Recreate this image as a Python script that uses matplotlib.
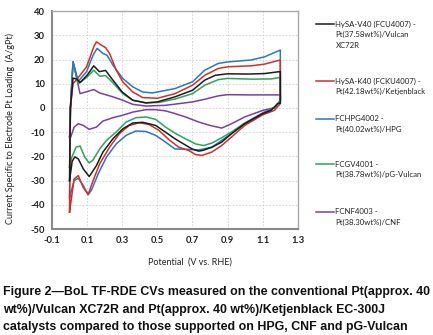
#!/usr/bin/env python3
"""
BoL TF-RDE cyclic voltammograms - Pt on various carbon supports.
Anodic + cathodic sweep per catalyst, closed loop 0.0 -> 1.2 -> 0.0 V.
"""

import matplotlib
matplotlib.use("Agg")
import matplotlib.pyplot as plt
from matplotlib.lines import Line2D

# ── data ─────────────────────────────────────────────────────────────────────
# HySA-V40 (black)
V40_E_AN = [0.0, 0.005, 0.02, 0.04, 0.06, 0.1, 0.138, 0.17, 0.205, 0.247, 0.3,
            0.36, 0.435, 0.5, 0.6, 0.7, 0.77, 0.83, 0.9, 1.016, 1.11, 1.185, 1.2]
V40_I_AN = [-30, 0, 12.3, 12, 10.5, 13.5, 17.4, 15, 15.5, 11.5, 6.6,
            3.2, 2.1, 2.5, 4.6, 7.3, 11.5, 13.5, 14.1, 14, 14.2, 14.9, 15]
V40_E_CA = [1.2, 1.185, 1.147, 1.1, 0.997, 0.922, 0.866, 0.81, 0.76, 0.735, 0.7,
            0.66, 0.6, 0.547, 0.49, 0.416, 0.36, 0.303, 0.247, 0.19, 0.153,
            0.112, 0.078, 0.05, 0.03, 0.015, 0.0]
V40_I_CA = [2, 1.8, -1, -2.3, -6.5, -10.6, -14.1, -16.2, -17.5, -17.8, -17,
            -15.3, -12.7, -10, -7.2, -5.9, -6.2, -8.6, -12.7, -18.2, -23.8,
            -28.3, -25.1, -21, -20.2, -22, -30]

# HySA-K40 (red)
K40_E_AN = [0.0, 0.005, 0.02, 0.06, 0.097, 0.138, 0.153, 0.18, 0.205, 0.228,
            0.266, 0.303, 0.36, 0.416, 0.5, 0.6, 0.7, 0.77, 0.847, 0.9, 1.034,
            1.11, 1.2]
K40_I_AN = [-43, 0, 10, 13.5, 17, 25.3, 27.3, 26, 24.9, 22.5,
            15.6, 10.8, 6.6, 4.3, 4, 5.9, 9.4, 13.5, 16.3, 17, 17.4,
            18.1, 19.8]
K40_E_CA = [1.2, 1.166, 1.1, 0.997, 0.922, 0.866, 0.81, 0.753, 0.716, 0.678,
            0.622, 0.566, 0.51, 0.453, 0.397, 0.34, 0.284, 0.228, 0.172,
            0.134, 0.106, 0.078, 0.05, 0.026, 0.0]
K40_I_CA = [1.8, -1, -2.8, -7.2, -12, -15.5, -18.2, -19.6, -19.2, -17.5,
            -16.2, -13.1, -9.3, -6.8, -6.1, -7.2, -10.6, -16.2, -23,
            -30, -35.7, -32.8, -27.9, -29.3, -43]

# FCHPG4002 (blue)
HPG_E_AN = [0.0, 0.005, 0.02, 0.05, 0.097, 0.134, 0.157, 0.19, 0.213, 0.247,
            0.303, 0.36, 0.416, 0.47, 0.6, 0.7, 0.77, 0.847, 0.9, 1.034, 1.11,
            1.2]
HPG_I_AN = [-37, 0, 19, 11, 15, 21.8, 24.6, 22.5, 21.8, 17.7,
            12.2, 8.7, 6.6, 6.2, 8, 10.8, 15.6, 18.4, 19, 19.8, 21.1,
            23.9]
HPG_E_CA = [1.2, 1.166, 1.1, 0.997, 0.922, 0.866, 0.81, 0.735, 0.678, 0.6,
            0.547, 0.49, 0.435, 0.378, 0.322, 0.266, 0.21, 0.163, 0.125,
            0.106, 0.078, 0.05, 0.026, 0.0]
HPG_I_CA = [3, 0.1, -2.1, -6.5, -10.6, -13.4, -16.2, -17.3, -17.1, -16.9,
            -14.1, -11.3, -9.7, -9.5, -11.3, -14.8, -20.3, -27.2, -33.9,
            -35.8, -32, -29, -30, -37]

# FCGV4001 (green)
GV_E_AN = [0.0, 0.005, 0.02, 0.05, 0.097, 0.138, 0.172, 0.205, 0.247, 0.303,
           0.36, 0.435, 0.51, 0.6, 0.7, 0.77, 0.847, 0.9, 1.034, 1.147, 1.2]
GV_I_AN = [-24.5, 0, 19, 10, 12.6, 15.6, 13.1, 13.4, 10.4, 5.9,
           3.2, 2.1, 2.3, 3.7, 5.9, 9.4, 11.7, 12.2, 11.9, 12, 12.6]
GV_E_CA = [1.2, 1.166, 1.1, 0.997, 0.922, 0.866, 0.81, 0.762, 0.716, 0.66,
           0.6, 0.547, 0.49, 0.435, 0.378, 0.322, 0.266, 0.21, 0.172, 0.134,
           0.112, 0.087, 0.06, 0.037, 0.013, 0.0]
GV_I_CA = [3, 0.1, -2.1, -6.2, -9.9, -12.3, -14.5, -15.5, -14.8, -12.7,
           -10.4, -7.9, -4.7, -3.7, -4, -5.8, -9.9, -13.4, -16.9, -21.4,
           -22.7, -20.3, -15.7, -16.2, -20.3, -24.5]

# FCNF4003 (purple)
NF_E_AN = [0.0, 0.005, 0.02, 0.06, 0.138, 0.172, 0.247, 0.303, 0.36, 0.435,
           0.547, 0.7, 0.77, 0.847, 0.9, 1.034, 1.2]
NF_I_AN = [-12, 0, 19, 5.9, 7.6, 6.2, 4.6, 3.2, 1.5, 0.8,
           1.1, 2.5, 3.6, 5, 5.5, 5.4, 5.4]
NF_E_CA = [1.2, 1.166, 1.1, 0.997, 0.922, 0.866, 0.8, 0.735, 0.66, 0.6,
           0.547, 0.49, 0.435, 0.36, 0.303, 0.247, 0.19, 0.153, 0.112, 0.078,
           0.05, 0.026, 0.007, 0.0]
NF_I_CA = [3, 0.1, -1, -3.7, -6.5, -8.3, -7.2, -5.8, -3.7, -2.3,
           -1.2, -0.7, -0.7, -1.7, -3, -4, -5.4, -7.9, -8.8, -7.2,
           -6.5, -7.9, -12, -12]

LABELS = [
    "HySA-V40 (FCU4007) -\nPt(37.58wt%)/Vulcan\nXC72R",
    "HySA-K40 (FCKU4007) -\nPt(42.18wt%)/Ketjenblack",
    "FCHPG4002 -\nPt(40.02wt%)/HPG",
    "FCGV4001 -\nPt(38.78wt%)/pG-Vulcan",
    "FCNF4003 -\nPt(38.30wt%)/CNF",
]
COLORS = ["#1c1c1c", "#d0302a", "#2a78bd", "#2fa35c", "#7d3fa3"]

X_TICKS = [-0.1, 0.1, 0.3, 0.5, 0.7, 0.9, 1.1, 1.3]
Y_TICKS = [-50, -40, -30, -20, -10, 0, 10, 20, 30, 40]

CAPTION = [
    "Figure 2\u2014BoL TF-RDE CVs measured on the conventional Pt(approx. 40",
    "wt%)/Vulcan XC72R and Pt(approx. 40 wt%)/Ketjenblack EC-300J",
    "catalysts compared to those supported on HPG, CNF and pG-Vulcan",
]

# legend handle heights (figure fraction), one per entry
LEG_Y = [0.928, 0.758, 0.645, 0.510, 0.367]

AX_FONT = ["Lato", "DejaVu Sans"]
CAP_FONT = ["Liberation Sans", "DejaVu Sans"]


def main():
    series = [
        (V40_E_AN + V40_E_CA, V40_I_AN + V40_I_CA),
        (K40_E_AN + K40_E_CA, K40_I_AN + K40_I_CA),
        (HPG_E_AN + HPG_E_CA, HPG_I_AN + HPG_I_CA),
        (GV_E_AN + GV_E_CA, GV_I_AN + GV_I_CA),
        (NF_E_AN + NF_E_CA, NF_I_AN + NF_I_CA),
    ]

    fig = plt.figure(figsize=(4.33, 3.35), dpi=100)
    ax = fig.add_axes([0.120, 0.316, 0.568, 0.651])

    # draw back-to-front so the black trace sits on top like the original
    for (e, i), color in list(zip(series, COLORS))[::-1]:
        ax.plot(e, i, color=color, lw=1.1, solid_joinstyle="round")

    ax.set_xlim(-0.1, 1.3)
    ax.set_ylim(-50, 40)
    ax.set_xticks(X_TICKS)
    ax.set_yticks(Y_TICKS)
    ax.set_xticklabels([f"{t:.1f}" for t in X_TICKS])
    ax.set_yticklabels([str(t) for t in Y_TICKS])
    for lab in ax.get_xticklabels() + ax.get_yticklabels():
        lab.set_family(AX_FONT)
        lab.set_fontweight("bold")
        lab.set_fontsize(6.8)
        lab.set_color("#222222")
    ax.tick_params(length=0, pad=5)
    ax.grid(True, color="#cfcfcf", lw=0.6, linestyle=(0, (2, 2)))
    ax.set_axisbelow(True)
    for side in ["top", "right"]:
        ax.spines[side].set_color("#a8a8a8")
        ax.spines[side].set_linewidth(1.0)
    for side in ["left", "bottom"]:
        ax.spines[side].set_color("#8a8a8a")
        ax.spines[side].set_linewidth(1.5)

    ax.set_xlabel("Potential  (V vs. RHE)", family=AX_FONT, fontsize=6.5,
                  color="#222222")
    ax.xaxis.set_label_coords(0.56, -0.13)
    ax.set_ylabel("Current Specific to Electrode Pt Loading  (A/gPt)",
                  family=AX_FONT, fontsize=6.5, color="#222222")
    ax.yaxis.set_label_coords(-0.15, 0.463)

    # ── legend: one entry per block, handle level with first text line ─────
    for label, color, y in zip(LABELS, COLORS, LEG_Y):
        n = label.count("\n")
        padded = "\n" * n + label
        h = Line2D([], [], color=color, lw=1.1)
        leg = fig.legend(handles=[h], labels=[padded], loc="center left",
                         bbox_to_anchor=(0.729, y), frameon=False,
                         borderpad=0, borderaxespad=0, handlelength=2.3,
                         handletextpad=0.25,
                         prop={"family": AX_FONT, "size": 5.6})
        for t in leg.get_texts():
            t.set_linespacing(1.6)
            t.set_color("#222222")

    # ── caption, size fitted so the first line spans the figure width ────────
    cap = []
    for k, line in enumerate(CAPTION):
        cap.append(fig.text(0.008, 0.119 - k * 0.052, line, family=CAP_FONT,
                            fontweight="bold", fontsize=10, va="baseline",
                            ha="left", color="#111111"))
    renderer = fig.canvas.get_renderer()
    w = cap[0].get_window_extent(renderer).width
    size = 10 * 425.0 / w
    for t in cap:
        t.set_fontsize(size)

    fig.savefig("out.png", dpi=100)


if __name__ == "__main__":
    main()
